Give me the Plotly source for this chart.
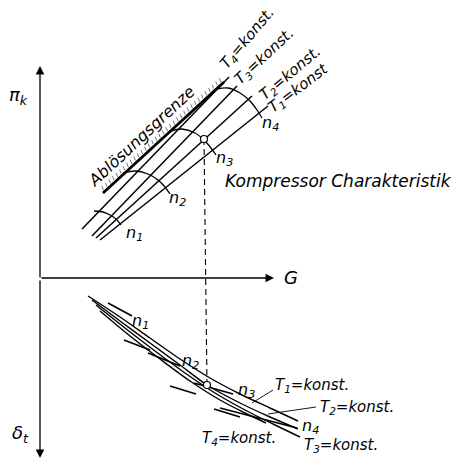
import plotly.graph_objects as go

# ---------------- data (picture coordinates) ----------------
# Upper diagram: lines of constant T (compressor characteristic)
T4_up_x = [82, 229]; T4_up_y = [229, 77]
T3_up_x = [92, 237]; T3_up_y = [236, 86]
T2_up_x = [96, 252]; T2_up_y = [238, 96]
T1_up_x = [100, 268]; T1_up_y = [240, 106]

# surge limit (Ablösungsgrenze)
surge_x = [103, 224]; surge_y = [193, 82]

# constant-speed curves n1..n4 (upper)
n1_up_x = [94, 103, 110, 116, 121]; n1_up_y = [211, 212, 215, 219, 225]
n2_up_x = [123, 135, 148, 158, 165, 170]; n2_up_y = [173, 171, 174, 180, 187, 194]
n3_up_x = [170, 182, 195, 204, 211, 216]; n3_up_y = [131, 129, 133, 140, 148, 155]
n4_up_x = [216, 228, 240, 250, 257, 262]; n4_up_y = [89, 88, 93, 101, 110, 118]

# operating points
op_up = (204, 139)
op_low = (207, 385)

# Lower diagram: delta_t curves for T = konst.
T1_lo_x = [88, 120, 150, 180, 210, 240, 270, 298]
T1_lo_y = [296, 317, 338, 359, 378, 394, 408, 421]
T2_lo_x = [92, 120, 150, 180, 207, 240, 270, 298]
T2_lo_y = [300, 321, 343, 365, 385, 403, 417, 429]
T3_lo_x = [96, 125, 155, 185, 215, 245, 275, 300]
T3_lo_y = [305, 328, 351, 373, 393, 410, 425, 437]
T4_lo_x = [100, 130, 160, 190, 220, 245, 266]
T4_lo_y = [311, 336, 359, 381, 400, 413, 423]

# short constant-speed segments crossing the lower bundle
nseg_x = [[108, 132], [124, 150], [148, 180], [170, 196], [194, 233], [214, 240], [220, 297]]
nseg_y = [[303, 316], [340, 350], [353, 366], [386, 394], [383, 394], [409, 417], [408, 428]]

# leader lines for the lower labels
lead_x = [[252, 273], [268, 316]]
lead_y = [[403, 390], [414, 407]]

FONT = "DejaVu Sans"

fig = go.Figure()


def line(xs, ys, w=1.4, color="black", dash=None):
    fig.add_trace(go.Scatter(x=xs, y=ys, mode="lines", hoverinfo="skip",
                             line=dict(color=color, width=w, dash=dash, shape="spline",
                                       smoothing=0.8)))


for xs, ys in [(T4_up_x, T4_up_y), (T3_up_x, T3_up_y), (T2_up_x, T2_up_y), (T1_up_x, T1_up_y)]:
    line(xs, ys, 1.5)
line(surge_x, surge_y, 2.8)

# hatch marks along surge limit (derived from the surge line)
hx, hy = [], []
dx = surge_x[1] - surge_x[0]; dy = surge_y[1] - surge_y[0]
L = (dx * dx + dy * dy) ** 0.5
ux, uy = dx / L, dy / L
px, py = uy, -ux
if px > 0:
    px, py = -px, -py
nh = 34
for i in range(nh):
    t = (i + 0.5) / nh
    bx = surge_x[0] + t * dx; by = surge_y[0] + t * dy
    hx += [bx + 2 * px, bx + 6 * px + 1.5 * ux, None]
    hy += [by + 2 * py, by + 6 * py + 1.5 * uy, None]
fig.add_trace(go.Scatter(x=hx, y=hy, mode="lines", hoverinfo="skip",
                         line=dict(color="#777", width=1)))

for xs, ys in [(n1_up_x, n1_up_y), (n2_up_x, n2_up_y), (n3_up_x, n3_up_y), (n4_up_x, n4_up_y)]:
    line(xs, ys, 1.3)

for xs, ys in [(T1_lo_x, T1_lo_y), (T2_lo_x, T2_lo_y), (T3_lo_x, T3_lo_y), (T4_lo_x, T4_lo_y)]:
    line(xs, ys, 1.4)

for xs, ys in zip(nseg_x, nseg_y):
    line(xs, ys, 1.6)
for xs, ys in zip(lead_x, lead_y):
    line(xs, ys, 0.9)

# dashed connection
fig.add_trace(go.Scatter(x=[op_up[0], op_low[0]], y=[op_up[1], op_low[1]], mode="lines",
                         hoverinfo="skip", line=dict(color="black", width=1.1, dash="6px,4px")))
fig.add_trace(go.Scatter(x=[op_up[0], op_low[0]], y=[op_up[1], op_low[1]], mode="markers",
                         hoverinfo="skip",
                         marker=dict(size=7, color="white", line=dict(color="black", width=1.2))))

anns = []
for (tx, ty, tlx, tly) in [(40, 66, 40, 279), (40, 458, 40, 279), (274, 278, 40, 278)]:
    anns.append(dict(x=tx, y=ty, ax=tlx, ay=tly, xref="x", yref="y", axref="x", ayref="y",
                     showarrow=True, arrowhead=2, arrowsize=1.3, arrowwidth=1.3,
                     arrowcolor="black", text=""))


def txt(x, y, s, size=14, angle=0):
    anns.append(dict(x=x, y=y, xref="x", yref="y", text="<i>" + s + "</i>", showarrow=False,
                     textangle=angle, font=dict(family=FONT, size=size, color="black"),
                     xanchor="center", yanchor="middle"))


txt(18, 96, "π<sub>k</sub>", 18)
txt(20, 434, "δ<sub>t</sub>", 18)
txt(291, 277, "G", 18)
txt(141, 136, "Ablösungsgrenze", 16, -43)
txt(338, 181, "Kompressor Charakteristik", 17)
txt(247, 38, "T<sub>4</sub>=konst.", 15, -50)
txt(264, 56, "T<sub>3</sub>=konst.", 15, -43)
txt(290, 73, "T<sub>2</sub>=konst.", 15, -40)
txt(298, 88, "T<sub>1</sub>=konst", 15, -37)
txt(134, 233, "n<sub>1</sub>", 16)
txt(177, 198, "n<sub>2</sub>", 16)
txt(224, 158, "n<sub>3</sub>", 16)
txt(270, 123, "n<sub>4</sub>", 16)
# lower labels
txt(140, 321, "n<sub>1</sub>", 16)
txt(190, 361, "n<sub>2</sub>", 16)
txt(246, 390, "n<sub>3</sub>", 16)
txt(310, 426, "n<sub>4</sub>", 16)
txt(312, 385, "T<sub>1</sub>=konst.", 15)
txt(357, 407, "T<sub>2</sub>=konst.", 15)
txt(341, 445, "T<sub>3</sub>=konst.", 15)
txt(239, 438, "T<sub>4</sub>=konst.", 15)

fig.update_layout(
    width=462, height=465, margin=dict(l=0, r=0, t=0, b=0),
    paper_bgcolor="white", plot_bgcolor="white", showlegend=False,
    xaxis=dict(range=[0, 462], visible=False, fixedrange=True),
    yaxis=dict(range=[465, 0], visible=False, fixedrange=True),
    annotations=anns,
)
fig.write_html("out.html", config={"displayModeBar": False},
               post_script="document.body.style.margin='0';")
